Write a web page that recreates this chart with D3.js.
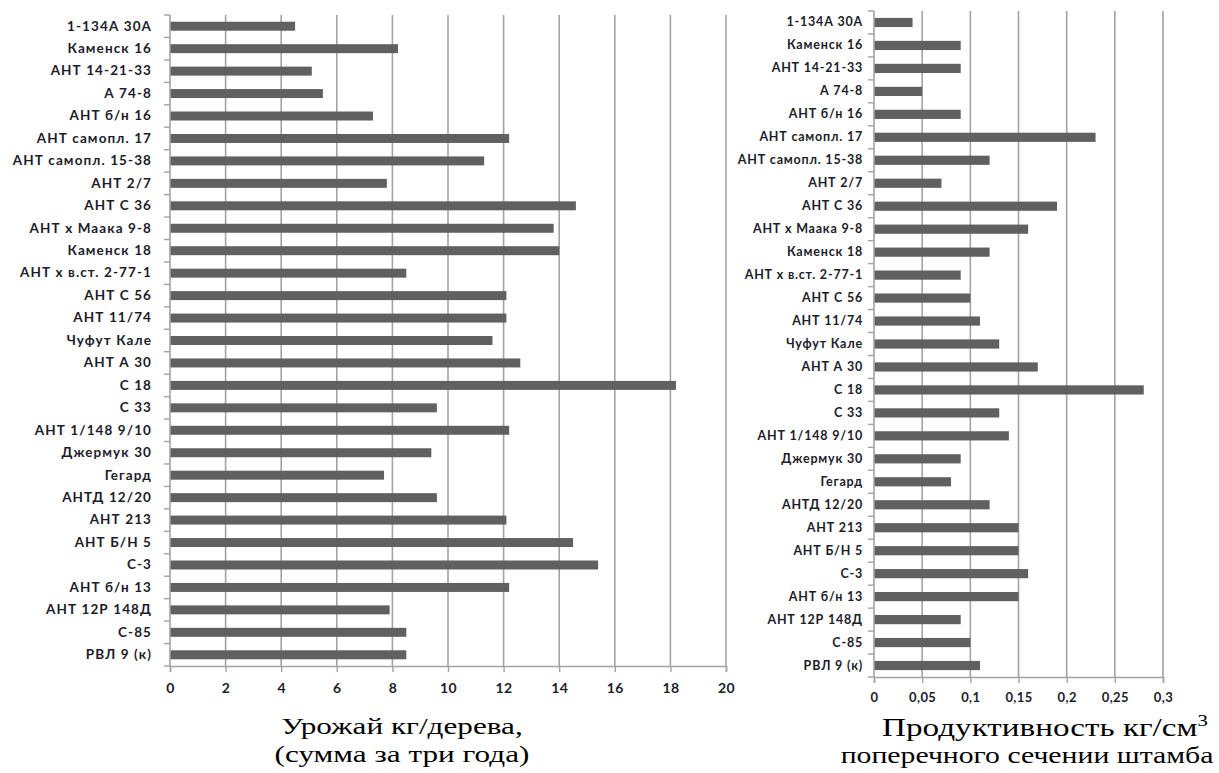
<!DOCTYPE html>
<html>
<head>
<meta charset="utf-8">
<script src="https://cdn.jsdelivr.net/npm/d3@7"></script>
<style>
  body { margin: 0; background: #fff; }
  svg { display: block; }
  .cat text { font-family: Lato, "Open Sans", sans-serif; font-weight: 700; fill: #1c1c2a; }
  .num text { font-family: Lato, "Open Sans", sans-serif; font-weight: 700; fill: #1c1c2a; }
  .caption { font-family: "Liberation Serif", "Times New Roman", serif; fill: #000; }
</style>
</head>
<body>
<div id="chart"></div>
<script>
// sorts, top to bottom
var varieties = [
  '1-134А 30А', 'Каменск 16', 'АНТ 14-21-33', 'А 74-8', 'АНТ б/н 16',
  'АНТ самопл. 17', 'АНТ самопл. 15-38', 'АНТ 2/7', 'АНТ С 36', 'АНТ х Маака  9-8',
  'Каменск 18', 'АНТ х в.ст. 2-77-1', 'АНТ С 56', 'АНТ  11/74', 'Чуфут Кале',
  'АНТ А 30', 'С 18', 'С 33', 'АНТ 1/148 9/10', 'Джермук 30',
  'Гегард', 'АНТД 12/20', 'АНТ 213', 'АНТ Б/Н 5', 'С-3',
  'АНТ б/н 13', 'АНТ 12Р 148Д', 'С-85', 'РВЛ 9 (к)'
];

// урожай кг/дерева, сумма за три года
var harvest = [
  4.5, 8.2, 5.1, 5.5, 7.3,
  12.2, 11.3, 7.8, 14.6, 13.8,
  14.0, 8.5, 12.1, 12.1, 11.6,
  12.6, 18.2, 9.6, 12.2, 9.4,
  7.7, 9.6, 12.1, 14.5, 15.4,
  12.2, 7.9, 8.5, 8.5
];

// продуктивность кг/см3 поперечного сечения штамба
var productivity = [
  0.04, 0.09, 0.09, 0.05, 0.09,
  0.23, 0.12, 0.07, 0.19, 0.16,
  0.12, 0.09, 0.10, 0.11, 0.13,
  0.17, 0.28, 0.13, 0.14, 0.09,
  0.08, 0.12, 0.15, 0.15, 0.16,
  0.15, 0.09, 0.10, 0.11
];

var harvestTicks = [0, 2, 4, 6, 8, 10, 12, 14, 16, 18, 20];
var productivityTicks = [0, 0.05, 0.1, 0.15, 0.2, 0.25, 0.3];

var svg = d3.select('#chart').append('svg')
  .attr('width', 1219)
  .attr('height', 773);

function panel(opts) {
  var g = svg.append('g');
  var x = d3.scaleLinear()
    .domain([0, opts.ticks[opts.ticks.length - 1]])
    .range([opts.left, opts.right]);
  var y = d3.scaleBand()
    .domain(varieties)
    .range([opts.top, opts.bottom])
    .paddingInner(0.6)
    .paddingOuter(0.3);

  // vertical grid
  g.append('g').selectAll('line')
    .data(opts.ticks.slice(1))
    .enter().append('line')
      .attr('x1', function(d) { return x(d); })
      .attr('x2', function(d) { return x(d); })
      .attr('y1', opts.top)
      .attr('y2', opts.bottom)
      .attr('stroke', '#a3a3a3')
      .attr('stroke-width', 1.6);

  // bars
  g.append('g').selectAll('rect')
    .data(opts.values)
    .enter().append('rect')
      .attr('x', x(0))
      .attr('y', function(d, i) { return y(varieties[i]); })
      .attr('width', function(d) { return x(d) - x(0); })
      .attr('height', y.bandwidth())
      .attr('fill', '#606060');

  // category axis: labels centred, ticks on the band edges
  var yAxis = g.append('g')
    .attr('class', 'cat')
    .attr('transform', 'translate(' + opts.left + ',0)')
    .call(d3.axisLeft(y).tickSize(0).tickPadding(opts.labelPad));
  yAxis.select('.domain').remove();
  yAxis.selectAll('text')
    .style('font-size', opts.labelSize + 'px')
    .style('letter-spacing', opts.labelSpacing + 'px');

  var edges = d3.range(varieties.length + 1).map(function(i) {
    return opts.top + i * y.step();
  });
  g.append('g').selectAll('line')
    .data(edges)
    .enter().append('line')
      .attr('x1', opts.left - 6)
      .attr('x2', opts.left)
      .attr('y1', function(d) { return d; })
      .attr('y2', function(d) { return d; })
      .attr('stroke', '#a3a3a3')
      .attr('stroke-width', 1.4);
  g.append('line')
    .attr('x1', opts.left).attr('x2', opts.left)
    .attr('y1', opts.top).attr('y2', opts.bottom)
    .attr('stroke', '#a3a3a3')
    .attr('stroke-width', 1.6);

  // value axis
  var xAxis = g.append('g')
    .attr('class', 'num')
    .attr('transform', 'translate(0,' + opts.bottom + ')')
    .call(d3.axisBottom(x)
      .tickValues(opts.ticks)
      .tickSize(6)
      .tickPadding(opts.tickPad)
      .tickFormat(function(d) { return String(d).replace('.', ','); }));
  xAxis.select('.domain').attr('stroke', '#a3a3a3').attr('stroke-width', 1.6);
  xAxis.selectAll('.tick line').attr('stroke', '#a3a3a3').attr('stroke-width', 1.4);
  xAxis.selectAll('text')
    .style('font-size', opts.tickSize + 'px')
    .style('letter-spacing', '0.4px');

  return g;
}

panel({
  values: harvest, ticks: harvestTicks,
  left: 170, right: 726, top: 15, bottom: 666,
  labelSize: 13.5, labelSpacing: 1.1, labelPad: 18, tickSize: 14, tickPad: 11
});

panel({
  values: productivity, ticks: productivityTicks,
  left: 874, right: 1163, top: 11, bottom: 677,
  labelSize: 12.5, labelSpacing: 0.8, labelPad: 11, tickSize: 13, tickPad: 10
});

// captions under the charts (the original is stretched sideways)
var cap = svg.append('g').attr('class', 'caption');
function caption(x, y, size, sx) {
  return cap.append('text')
    .attr('transform', 'translate(' + x + ',' + y + ') scale(' + sx + ',1)')
    .attr('text-anchor', 'middle')
    .style('font-size', size + 'px');
}
caption(402, 734, 24, 1.3).text('Урожай кг/дерева,');
caption(402, 762, 24, 1.3).text('(сумма за три года)');

var t = caption(1045, 736, 25.5, 1.3);
t.append('tspan').text('Продуктивность кг/см');
t.append('tspan').attr('dy', -10).style('font-size', '16px').text('3');
caption(1027, 763, 24, 1.24).text('поперечного сечении штамба');
</script>
</body>
</html>
